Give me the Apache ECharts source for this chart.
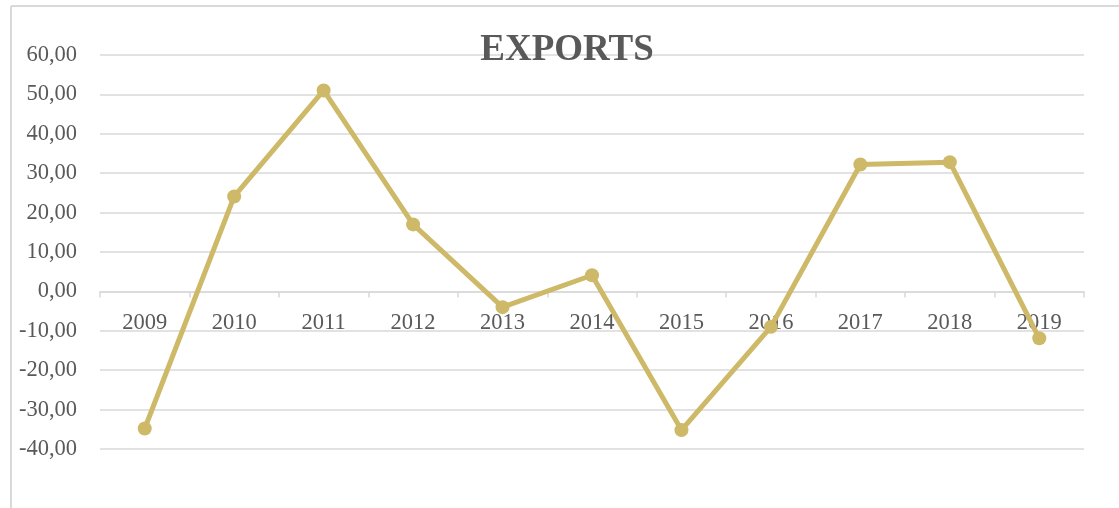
<!DOCTYPE html>
<html>
<head>
<meta charset="utf-8">
<script src="https://cdn.jsdelivr.net/npm/echarts@6/dist/echarts.min.js"></script>
<style>
html,body{margin:0;padding:0;background:#fff;}
#chart{width:1119px;height:508px;}
</style>
</head>
<body>
<div id="chart"></div>
<script>
var years = ['2009','2010','2011','2012','2013','2014','2015','2016','2017','2018','2019'];
var exportsValues = [-34.8, 24.1, 51.0, 17.0, -4.0, 4.1, -35.2, -9.0, 32.2, 32.8, -11.9];
var chartTitle = 'EXPORTS';

var serif = '"Liberation Serif", "DejaVu Serif", serif';
var chart = echarts.init(document.getElementById('chart'));
chart.setOption({
  backgroundColor: '#fff',
  animation: false,
  title: {
    text: chartTitle,
    left: 562,
    textAlign: 'center',
    top: 27,
    textStyle: {fontFamily: serif, fontWeight: 'bold', fontSize: 37, color: '#595959'}
  },
  graphic: [
    {type: 'line', shape: {x1: 11, y1: 6, x2: 1119, y2: 6}, style: {stroke: '#d9d9d9', lineWidth: 2}, silent: true},
    {type: 'line', shape: {x1: 11, y1: 6, x2: 11, y2: 508}, style: {stroke: '#d9d9d9', lineWidth: 2}, silent: true}
  ],
  grid: {left: 100, right: 35, top: 55, bottom: 59, containLabel: false},
  xAxis: {
    type: 'category',
    data: years,
    boundaryGap: true,
    position: 'bottom',
    offset: -157.6,
    axisLine: {onZero: false, lineStyle: {color: '#d9d9d9', width: 1.5}},
    axisTick: {show: true, length: 6, alignWithLabel: false, lineStyle: {color: '#d9d9d9', width: 1.5}},
    axisLabel: {margin: 20, fontFamily: serif, fontSize: 22.5, color: '#595959'},
    splitLine: {show: false}
  },
  yAxis: {
    type: 'value',
    min: -40, max: 60, interval: 10,
    axisLine: {show: false},
    axisTick: {show: false},
    axisLabel: {
      margin: 23, fontFamily: serif, fontSize: 22.5, color: '#595959',
      formatter: function (v) { return v.toFixed(2).replace('.', ','); }
    },
    splitLine: {lineStyle: {color: '#d9d9d9', width: 1.5}}
  },
  series: [{
    type: 'line',
    data: exportsValues,
    symbol: 'circle',
    symbolSize: 14,
    lineStyle: {color: '#CDB967', width: 5},
    itemStyle: {color: '#CDB967'},
    z: 3
  }]
});
</script>
</body>
</html>
